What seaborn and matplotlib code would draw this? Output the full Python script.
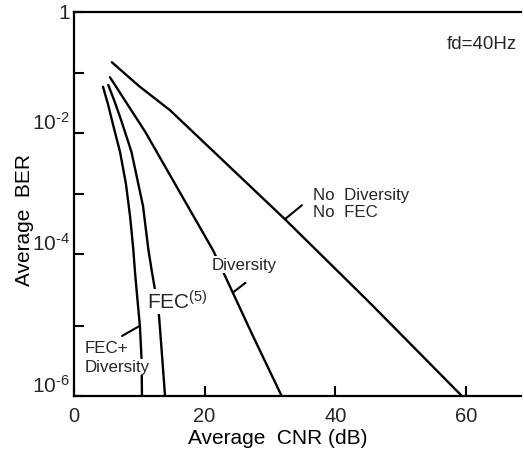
import numpy as np
import pandas as pd
import matplotlib
matplotlib.use("Agg")
import matplotlib.pyplot as plt
import seaborn as sns

# ---------------- data ----------------
cnr_no_div = [5.8, 10.0, 14.7, 32.3, 45.3, 59.4]
ber_no_div = [1.5e-1, 6.0e-2, 2.4e-2, 3.8e-4, 2.1e-5, 1.0e-6]

cnr_div = [5.5, 10.9, 16.2, 21.3, 23.2, 27.4, 31.8]
ber_div = [8.5e-2, 1.05e-2, 1.07e-3, 1.15e-4, 4.8e-5, 7.2e-6, 1.0e-6]

cnr_fec = [5.25, 6.13, 7.2, 8.8, 10.57, 11.38, 11.94, 12.4, 13.02, 13.52, 13.94]
ber_fec = [6.3e-2, 3.55e-2, 1.66e-2, 4.9e-3, 6.3e-4, 1.2e-4, 5.6e-5, 3.2e-5, 1.38e-5, 3.4e-6, 1.0e-6]

cnr_fec_div = [4.44, 5.21, 6.02, 7.05, 7.96, 8.58, 9.08, 9.34, 9.72, 10.1, 10.34, 10.41]
ber_fec_div = [5.9e-2, 3.0e-2, 1.32e-2, 4.9e-3, 1.45e-3, 4.3e-4, 1.2e-4, 5.6e-5, 2.3e-5, 9.8e-6, 3.4e-6, 1.0e-6]

x_ticks = [0, 20, 40, 60]
x_tick_labels = ["0", "20", "40", "60"]
y_major = [1e-6, 1e-4, 1e-2, 1]
y_major_labels = [r"10$^{\text{-}6}$", r"10$^{\text{-}4}$", r"10$^{\text{-}2}$", "1"]
y_minor = [1e-5, 1e-3, 1e-1]

# ---------------- style ----------------
sns.set_theme(style="white")
plt.rcParams["font.family"] = ["Liberation Sans", "DejaVu Sans"]
plt.rcParams["mathtext.fontset"] = "custom"
plt.rcParams["mathtext.rm"] = "Liberation Sans"
plt.rcParams["mathtext.it"] = "Liberation Sans:italic"
plt.rcParams["mathtext.bf"] = "Liberation Sans:bold"

# scanned axis: decades are not evenly spaced (positions of decade ticks)
DEC = np.array([-6, -5, -4, -3, -2, -1, 0.0])
POS = np.array([0, 70, 142, 202, 263, 323, 384.0])


def fwd(y):
    y = np.asarray(y, float)
    l = np.log10(np.clip(y, 1e-30, None))
    out = np.interp(l, DEC, POS)
    out = np.where(l < DEC[0], POS[0] + (l - DEC[0]) * (POS[1] - POS[0]), out)
    out = np.where(l > DEC[-1], POS[-1] + (l - DEC[-1]) * (POS[-1] - POS[-2]), out)
    return out


def inv(v):
    v = np.asarray(v, float)
    l = np.interp(v, POS, DEC)
    l = np.where(v < POS[0], DEC[0] + (v - POS[0]) / (POS[1] - POS[0]), l)
    l = np.where(v > POS[-1], DEC[-1] + (v - POS[-1]) / (POS[-1] - POS[-2]), l)
    return 10 ** l


fig = plt.figure(figsize=(5.24, 4.56), dpi=100)
ax = fig.add_axes([74 / 524, 59 / 456, 447 / 524, 384 / 456])
ax.set_yscale("function", functions=(fwd, inv))

LW = 1.7
for cx, cy in [(cnr_no_div, ber_no_div), (cnr_div, ber_div),
               (cnr_fec, ber_fec), (cnr_fec_div, ber_fec_div)]:
    df = pd.DataFrame({"cnr": cx, "ber": cy})
    sns.lineplot(data=df, x="cnr", y="ber", color="black", lw=LW,
                 ax=ax, sort=False, estimator=None, zorder=2)

ax.set_xlim(0, 68.45)
ax.set_ylim(1e-6, 1)

ax.set_xticks(x_ticks, x_tick_labels)
ax.set_yticks(y_major, y_major_labels)
ax.set_yticks(y_minor, minor=True)
ax.yaxis.set_minor_formatter(matplotlib.ticker.NullFormatter())
ax.xaxis.set_minor_locator(matplotlib.ticker.NullLocator())

ax.tick_params(which="both", direction="in", length=7, width=1.5,
               color="black", left=True, bottom=True, right=False, top=False)
ax.tick_params(axis="x", labelsize=14.5, pad=7)
ax.tick_params(axis="y", labelsize=15, pad=3)
for lbl in ax.get_yticklabels():
    lbl.set_va("center" if lbl.get_text() == "1" else "bottom")

for s in ["top", "left", "bottom"]:
    ax.spines[s].set_color("black")
    ax.spines[s].set_linewidth(1.6)
ax.spines["right"].set_visible(False)

ax.set_xlabel("Average  CNR (dB)", fontsize=15, color="black")
ax.set_ylabel("Average  BER", fontsize=15, color="black")
ax.xaxis.set_label_coords(0.456, -0.083)
ax.yaxis.set_label_coords(-0.0895, 0.461)

# annotations
white = dict(facecolor="white", edgecolor="none", pad=0.6)
ax.text(57.1, 10 ** -0.52, "fd=40Hz", fontsize=13.5, ha="left", va="center")
ax.text(36.6, 10 ** -3.15, "No  Diversity\nNo  FEC", fontsize=12.2,
        ha="left", va="center", linespacing=1.2)
ax.text(21.1, 7.2e-5, "Diversity", fontsize=12.2, ha="left", va="center",
        bbox=white, zorder=4)
ax.text(11.14, 1.73e-5, r"FEC$^{(5)}$", fontsize=15, ha="left", va="baseline",
        bbox=white, zorder=4)
ax.text(1.68, 5.0e-6, "FEC+", fontsize=12.2, ha="left", va="center", zorder=4)
ax.text(1.68, 2.6e-6, "Diversity", fontsize=12.2, ha="left", va="center",
        bbox=white, zorder=4)

lead = dict(arrowstyle="-", lw=1.5, color="black", shrinkA=0, shrinkB=0)
ax.annotate("", xy=(32.3, 3.8e-4), xytext=(34.9, 6.5e-4), arrowprops=lead)
ax.annotate("", xy=(24.4, 10 ** -4.53), xytext=(26.26, 10 ** -4.40), arrowprops=lead)
ax.annotate("", xy=(10.03, 1.0e-5), xytext=(7.35, 7.2e-6), arrowprops=lead)

fig.savefig("out.png", dpi=100, facecolor="white")
